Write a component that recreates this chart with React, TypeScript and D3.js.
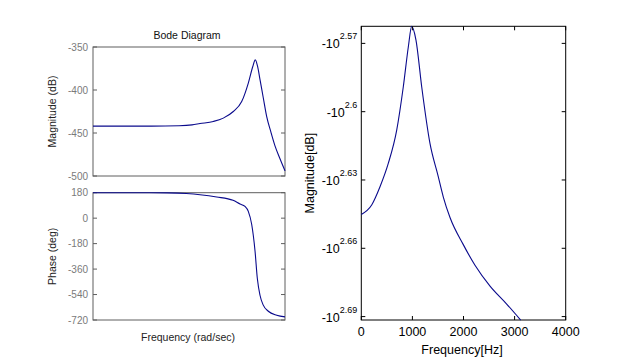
import * as d3 from 'd3';

// Bode diagram (left)
const bodeFreq = [10, 100, 300, 500, 686, 1161, 1722, 2558, 3563, 4626, 5506, 6097, 6650, 7345, 8356, 9572, 11246, 13280, 16180, 19720];
const bodeMag = [-442, -442, -441.5, -440.5, -439, -436.6, -432.7, -425, -413.5, -392, -373, -365, -372, -388, -409, -431, -448.5, -465, -480, -494];

const phaseFreq = [10, 95, 186, 400, 686, 1327, 2529, 3337, 4055, 4626, 5293, 6039, 6610, 7345, 8356, 10190, 14220, 19720];
const phaseDeg = [180, 180, 179, 174, 166, 150, 126, 100, 83, 48, -45, -234, -427, -545, -615, -658, -686, -698];

const magTicks = [-350, -400, -450, -500];
const phaseTicks = [180, 0, -180, -360, -540, -720];

// Linear-frequency magnitude (right), values in dB
const linFreq = [0, 203, 366, 528, 693, 822, 920, 986, 1070, 1182, 1344, 1500, 1605, 1736, 1996, 2225, 2519, 2845, 3119];
const linMag = [-441.7, -437.5, -429.5, -419.5, -405.6, -388.2, -372.9, -365.2, -370.3, -388.2, -411.1, -424.6, -434.0, -443.1, -455.4, -465.0, -474.9, -483.6, -491.5];

const hzTicks = [0, 1000, 2000, 3000, 4000];
const expTicks = [2.57, 2.6, 2.63, 2.66, 2.69];

const W = 624;
const H = 361;
const LINE = '#0a0a8c';
const FONT = "'Liberation Sans', Arial, sans-serif";

export default function App() {
  // left panels
  const lx = d3.scaleLog().domain([10, 19720]).range([93, 285]);
  const magY = d3.scaleLinear().domain([-500, -350]).range([176, 47]);
  const phY = d3.scaleLinear().domain([-720, 180]).range([320, 192.7]);

  // right panel
  const rx = d3.scaleLinear().domain([0, 4000]).range([361.3, 565.7]);
  const ry = d3.scaleLinear().domain([2.5625, 2.6915]).range([26.3, 320]);

  const magLine = d3.line<number>()
    .x((_, i) => lx(bodeFreq[i]))
    .y((d) => magY(d))
    .curve(d3.curveMonotoneX);
  const phLine = d3.line<number>()
    .x((_, i) => lx(phaseFreq[i]))
    .y((d) => phY(d))
    .curve(d3.curveMonotoneX);
  const linLine = d3.line<number>()
    .x((_, i) => rx(linFreq[i]))
    .y((d) => ry(Math.log10(-d)))
    .curve(d3.curveMonotoneX);

  const boxGrey = '#5e5e5e';
  const tickGrey = '#7a7a7a';
  const tk = 4;

  const leftBox = (yScale: d3.ScaleLinear<number, number>, ticks: number[]) => {
    const [x0, x1] = lx.range();
    const [yb, yt] = yScale.range();
    return (
      <g>
        <rect x={x0} y={yt} width={x1 - x0} height={yb - yt} fill="none" stroke={boxGrey} strokeWidth={1} />
        {ticks.map((t) => (
          <g key={t}>
            <line x1={x0} x2={x0 + tk} y1={yScale(t)} y2={yScale(t)} stroke={boxGrey} />
            <line x1={x1} x2={x1 - tk} y1={yScale(t)} y2={yScale(t)} stroke={boxGrey} />
            <text x={x0 - 5} y={yScale(t) + 3.5} textAnchor="end" fontSize={10} fill={tickGrey}>{t}</text>
          </g>
        ))}
      </g>
    );
  };

  const [rx0, rx1] = rx.range();
  const [ryt, ryb] = ry.range();

  return (
    <svg width={W} height={H} style={{ position: 'absolute', left: 0, top: 0, background: '#fff' }} fontFamily={FONT}>
      <rect width={W} height={H} fill="#fff" />

      {/* Bode magnitude */}
      <text x={187} y={38.5} textAnchor="middle" fontSize={10.5} fill="#111">Bode Diagram</text>
      {leftBox(magY, magTicks)}
      <path d={magLine(bodeMag) ?? ''} fill="none" stroke={LINE} strokeWidth={1.1} />
      <text transform={`translate(56,${(47 + 176) / 2}) rotate(-90)`} textAnchor="middle" fontSize={10.5} fill="#222">Magnitude (dB)</text>

      {/* Bode phase */}
      {leftBox(phY, phaseTicks)}
      <path d={phLine(phaseDeg) ?? ''} fill="none" stroke={LINE} strokeWidth={1.1} />
      <text transform={`translate(56,${(192.7 + 320) / 2}) rotate(-90)`} textAnchor="middle" fontSize={10.5} fill="#222">Phase (deg)</text>
      <text x={188} y={340.5} textAnchor="middle" fontSize={10.5} fill="#222">Frequency (rad/sec)</text>

      {/* Right panel */}
      <rect x={rx0} y={ryt} width={rx1 - rx0} height={ryb - ryt} fill="none" stroke="#000" strokeWidth={1} />
      <path d={linLine(linMag) ?? ''} fill="none" stroke={LINE} strokeWidth={1.1} />
      {hzTicks.map((t) => (
        <g key={t}>
          <line x1={rx(t)} x2={rx(t)} y1={ryb} y2={ryb - tk} stroke="#000" />
          <line x1={rx(t)} x2={rx(t)} y1={ryt} y2={ryt + tk} stroke="#000" />
          <text x={rx(t)} y={336} textAnchor="middle" fontSize={12.5} fill="#000">{t}</text>
        </g>
      ))}
      {expTicks.map((e) => (
        <g key={e}>
          <line x1={rx0} x2={rx0 + tk} y1={ry(e)} y2={ry(e)} stroke="#000" />
          <line x1={rx1} x2={rx1 - tk} y1={ry(e)} y2={ry(e)} stroke="#000" />
          <text x={rx0 - 4} y={ry(e) + 5} textAnchor="end" fontSize={12.5} fill="#000">
            -10<tspan dy={-9} fontSize={9}>{String(e)}</tspan>
          </text>
        </g>
      ))}
      <text x={462} y={354} textAnchor="middle" fontSize={12.5} fill="#000">Frequency[Hz]</text>
      <text transform={`translate(314,${(ryt + ryb) / 2}) rotate(-90)`} textAnchor="middle" fontSize={12.5} fill="#000">Magnitude[dB]</text>
    </svg>
  );
}
